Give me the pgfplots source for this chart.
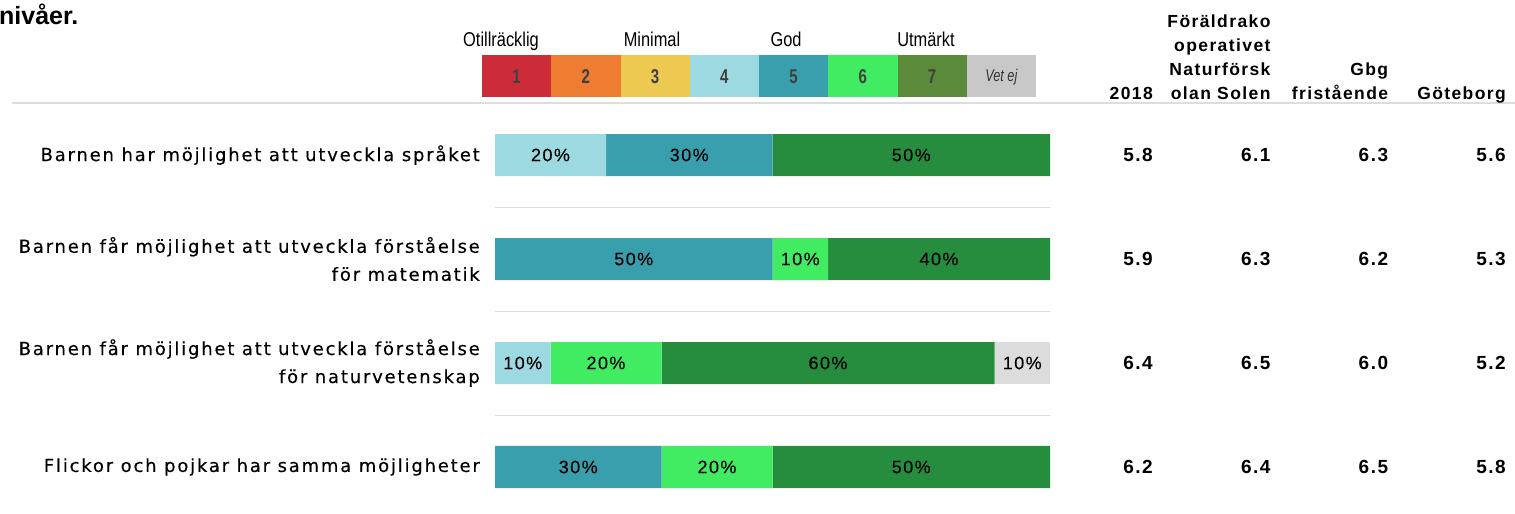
\documentclass[border=0pt]{standalone}
\usepackage{fontspec}
\usepackage{pgfplots}
\usepackage{pgfplotstable}
\pgfplotsset{compat=1.18}
\setmainfont{Liberation Sans}
\newfontfamily\labf[LetterSpace=10,FakeBold=0.3]{DejaVu Sans}
\newfontfamily\pctf[LetterSpace=8,FakeBold=0.3]{Liberation Sans}
\newfontfamily\numf[LetterSpace=8]{Liberation Sans}
\newfontfamily\condf[FakeStretch=0.82]{Liberation Sans}
\newfontfamily\condb[FakeStretch=0.75]{Liberation Sans}

\definecolor{l1}{HTML}{CC2B39}
\definecolor{l2}{HTML}{EE7D31}
\definecolor{l3}{HTML}{EDC952}
\definecolor{c4}{HTML}{9DD9E1}
\definecolor{c5}{HTML}{3A9FAC}
\definecolor{c6}{HTML}{42EC62}
\definecolor{l7}{HTML}{5B8A3A}
\definecolor{c7}{HTML}{268D3F}
\definecolor{lv}{HTML}{C8C8C8}
\definecolor{ve}{HTML}{DCDCDC}
\definecolor{sep}{HTML}{DDDDDD}

% share of answers per grade, rows from bottom (1) to top (4)
\pgfplotstableread{
row c4 c5 c6 c7 ve
4   20 30 0  50 0
3   0  50 10 40 0
2   10 0  20 60 10
1   0  30 20 50 0
}\shares

% mean values: column, row, value
\pgfplotstableread{
col row val
0 4 5.8
1 4 6.1
2 4 6.3
3 4 5.6
0 3 5.9
1 3 6.3
2 3 6.2
3 3 5.3
0 2 6.4
1 2 6.5
2 2 6.0
3 2 5.2
0 1 6.2
1 1 6.4
2 1 6.5
3 1 5.8
}\means

% stacked bars already put the node in the middle of the segment
\pgfplotsset{
  seg/.style={fill=#1, draw=none,
    visualization depends on={\thisrow{#1}\as\val},
    nodes near coords={\ifdim\val pt>0.1pt\pgfmathprintnumber[assume math mode=true]{\val}\%\fi},
    every node near coord/.style={anchor=center, inner sep=0pt,
      font=\pctf\fontsize{18bp}{20bp}\selectfont, text=black}},
}

\begin{document}
\begin{tikzpicture}
\path[use as bounding box] (0,0) rectangle (1515bp,-514bp);

% title fragment and top rule
\node[anchor=base west, inner sep=0pt, font=\fontsize{25bp}{28bp}\selectfont\bfseries] at (-1bp,-24bp) {nivåer.};
\draw[sep, line width=2bp] (12bp,-103bp) -- (1515bp,-103bp);

% grade legend
\foreach \c/\t [count=\i from 0] in {l1/1,l2/2,l3/3,c4/4,c5/5,c6/6,l7/7}{
  \fill[\c] (482bp+\i*69.25bp,-55bp) rectangle ++(69.25bp,-42bp);
  \node[font=\condb\fontsize{20bp}{22bp}\selectfont\bfseries, text=black!75] at (482bp+\i*69.25bp+34.6bp,-77bp) {\t};
}
\fill[lv] (482bp+7*69.25bp,-55bp) rectangle ++(69.25bp,-42bp);
\node[font=\condb\fontsize{17bp}{20bp}\selectfont\itshape, text=black!80] at (482bp+7*69.25bp+34.6bp,-77bp) {Vet ej};
\foreach \x/\t in {501/Otillräcklig,652/Minimal,786/God,926/Utmärkt}
  \node[anchor=base, inner sep=0pt, font=\condf\fontsize{20bp}{22bp}\selectfont] at (\x bp,-46bp) {\t};

\begin{axis}[
  at={(495bp,-103bp)}, anchor=north west,
  scale only axis, width=555bp, height=411bp,
  xmin=0, xmax=100, ymin=0.548, ymax=4.5,
  xbar stacked, bar width=42bp,
  axis line style={draw=none}, major tick length=0pt, minor tick length=0pt,
  xtick=\empty,
  ytick={1,2,3,4},
  yticklabels={Flickor och pojkar har samma möjligheter,
    {Barnen får möjlighet att utveckla förståelse\\för naturvetenskap},
    {Barnen får möjlighet att utveckla förståelse\\för matematik},
    Barnen har möjlighet att utveckla språket},
  yticklabel style={anchor=east, align=right, inner sep=0pt, xshift=-15bp,
    font=\labf\fontsize{18bp}{28bp}\selectfont},
  minor ytick={1.5,2.5,3.5}, yminorgrids=true,
  minor grid style={draw=sep, line width=1bp},
  clip=false,
]
\addplot[seg=c4] table[x=c4,y=row]{\shares};
\addplot[seg=c5] table[x=c5,y=row]{\shares};
\addplot[seg=c6] table[x=c6,y=row]{\shares};
\addplot[seg=c7] table[x=c7,y=row]{\shares};
\addplot[seg=ve] table[x=ve,y=row]{\shares};
\end{axis}

\begin{axis}[
  at={(1153bp,-103bp)}, anchor=north west,
  scale only axis, width=353bp, height=411bp,
  xmin=0, xmax=3, ymin=0.548, ymax=4.5,
  axis line style={draw=none}, major tick length=0pt,
  ytick=\empty, xtick={0,1,2,3},
  xticklabel pos=top,
  xticklabels={2018, {Föräldrako\\operativet\\Naturförsk\\olan Solen}, {Gbg\\fristående}, Göteborg},
  xticklabel style={anchor=south east, align=right, inner sep=0pt, text depth=0pt, yshift=3bp,
    font=\numf\fontsize{17.5bp}{24bp}\selectfont\bfseries},
  clip=false,
]
\addplot[draw=none, mark=none, nodes near coords, point meta=explicit symbolic,
  every node near coord/.style={anchor=east, inner sep=0pt,
    font=\numf\fontsize{19bp}{20bp}\selectfont\bfseries}]
  table[x=col,y=row,meta=val]{\means};
\end{axis}
\end{tikzpicture}
\end{document}
